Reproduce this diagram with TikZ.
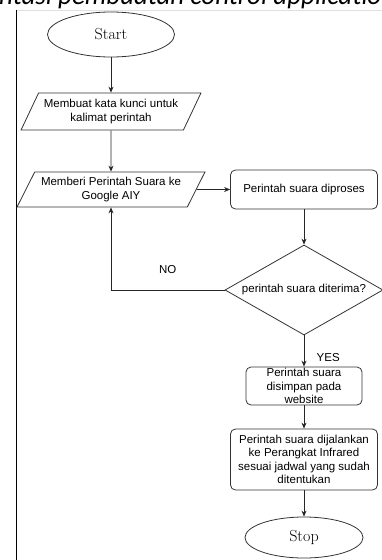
\documentclass[tikz,border=0pt]{standalone}
\usepackage{fontspec}
\setsansfont{Liberation Sans}
\newfontfamily\headfont{Carlito}
\usetikzlibrary{shapes.geometric,arrows.meta,positioning}

\begin{document}
\begin{tikzpicture}[x=1pt,y=-1pt,>={Stealth[length=6pt,width=5pt]},
  every node/.style={font=\sffamily\fontsize{11.5}{13.3}\selectfont},
  line/.style={draw=black!85,line width=0.8pt},
  term/.style={draw=black!80,ellipse,line width=0.8pt,inner sep=0pt,
    font=\rmfamily\fontsize{16}{18}\selectfont},
  io/.style={draw=black!80,trapezium,trapezium left angle=56,
    trapezium right angle=124,trapezium stretches,inner sep=0pt,
    align=center,line width=0.8pt},
  proc/.style={draw=black!80,rounded corners=5pt,align=center,
    inner sep=0pt,line width=0.8pt},
  decision/.style={draw=black!80,diamond,inner sep=0pt,line width=0.8pt}]
  \useasboundingbox (0,0) rectangle (382,560);
  % frame and cut-off caption
  \node[font=\headfont\itshape\fontsize{27}{30}\selectfont,anchor=base west,
    inner sep=0pt] (judul) at (-1,4) {ntasi pembuatan control applicatio};
  \draw[black!12,line width=0.6pt] (16,10) -- (382,10);
  \draw[black,line width=1.2pt] (16.5,10) -- (16.5,560);
  % left column
  \node[term,minimum width=127pt,minimum height=45pt] (start) at (111,34.5) {Start};
  \node[io,minimum width=180pt,minimum height=37pt] (kunci) at (111,111.5)
    {Membuat kata kunci untuk\\kalimat perintah};
  \node[io,minimum width=188pt,minimum height=35pt] (beri) at (111,189.5)
    {Memberi Perintah Suara ke\\Google AIY};
  % right column
  \node[proc,minimum width=147pt,minimum height=39pt] (proses) at (304,189.5)
    {Perintah suara diproses};
  \node[decision,minimum width=158pt,minimum height=90pt,
    label=center:{perintah suara diterima?}] (terima) at (304,290) {};
  \node[proc,minimum width=116pt,minimum height=38pt] (simpan) at (304,386)
    {Perintah suara\\disimpan pada\\website};
  \node[proc,minimum width=147pt,minimum height=61pt] (jalan) at (304,459.5)
    {Perintah suara dijalankan\\ke Perangkat Infrared\\sesuai jadwal yang sudah\\ditentukan};
  \node[term,minimum width=118pt,minimum height=41pt] (stop) at (304,537.5) {Stop};
  % connectors
  \draw[line,->] (start) -- (kunci);
  \draw[line,->] (kunci) -- (beri);
  \draw[line,->] (beri) -- (proses);
  \draw[line,->] (proses) -- (terima);
  \draw[line,->] (terima.west) -| node[pos=0.25,above=13pt]{NO} (beri.south);
  \draw[line,->] (terima) -- node[pos=0.7,right=9pt]{YES} (simpan);
  \draw[line,->] (simpan) -- (jalan);
  \draw[line,->] (jalan) -- (stop);
\end{tikzpicture}
\end{document}
